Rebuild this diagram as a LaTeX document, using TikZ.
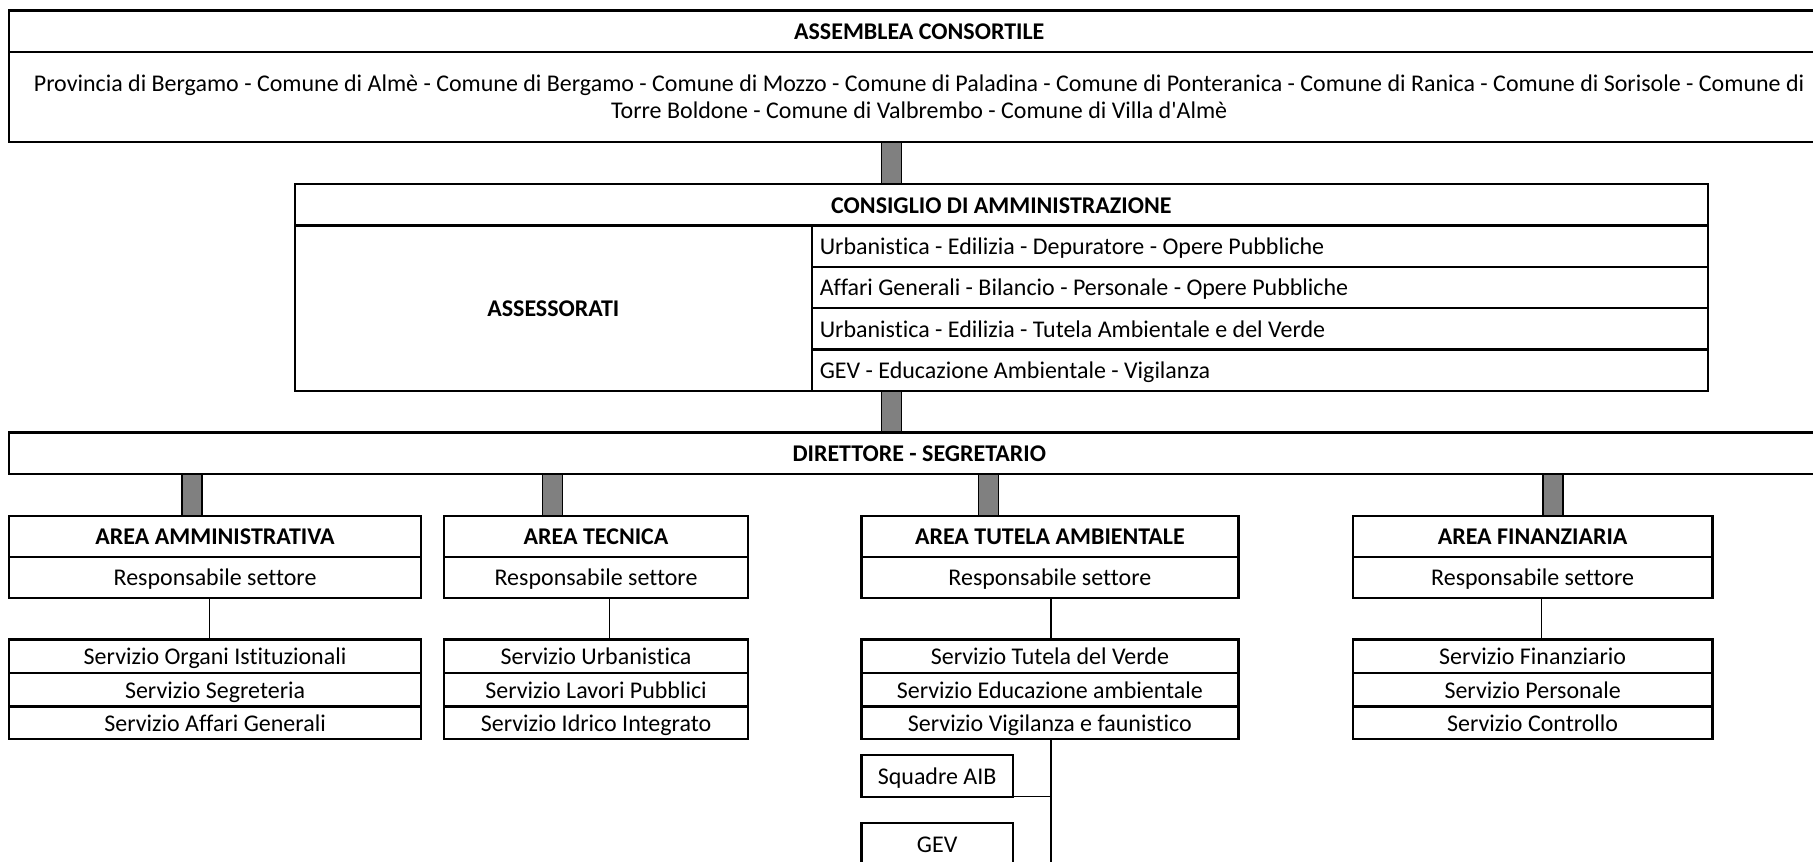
\documentclass[tikz,border=0pt]{standalone}
\usepackage{fontspec}
\setmainfont{Carlito}[Ligatures={TeX,NoCommon}]
\usetikzlibrary{calc}
\tikzstyle{cell}=[draw, line width=1.15pt, inner sep=0pt, outer sep=0pt, anchor=north west, align=center, font=\fontsize{11.8}{13.2}\selectfont]
\tikzstyle{row}=[cell, text height=9.3pt, text depth=1.1pt]
\tikzstyle{head}=[row, font=\fontsize{11.8}{13.2}\selectfont\bfseries]
\tikzstyle{bar} = [draw=black, line width=0.7pt, double=gray, double distance=3.2mm, shorten >=0.55pt, shorten <=0.55pt]
\tikzstyle{link} = [draw, line width=0.75pt]
\begin{document}
\begin{tikzpicture}[x=0.2mm, y=-0.2mm]

  \def\u{0.2mm};
  \useasboundingbox (0,0) rectangle (1568,745);
  \clip (0,0) rectangle (1568,745);

  % assemblea
  \node[head, minimum width=1574*\u, minimum height=36*\u] (asm-h) at (8,9) {ASSEMBLEA CONSORTILE};
  \node[cell, minimum width=1574*\u, minimum height=78*\u] (asm) at (8,45) {Provincia di Bergamo - Comune di Almè - Comune di Bergamo - Comune di Mozzo - Comune di Paladina - Comune di Ponteranica - Comune di Ranica - Comune di Sorisole - Comune di\\Torre Boldone - Comune di Valbrembo - Comune di Villa d\textquotesingle Almè};

  % consiglio
  \node[head, minimum width=1222*\u, minimum height=36*\u] (cda) at (255,159) {CONSIGLIO DI AMMINISTRAZIONE};
  \node[head, minimum width=447*\u, minimum height=143*\u] (ass) at (255,195) {ASSESSORATI};
  \foreach \i/\y/\txt in {1/195/Urbanistica - Edilizia - Depuratore - Opere Pubbliche, 2/230.75/Affari Generali - Bilancio - Personale - Opere Pubbliche, 3/266.5/Urbanistica - Edilizia - Tutela Ambientale e del Verde, 4/302.25/GEV - Educazione Ambientale - Vigilanza}
     \node[row, minimum width=775*\u, minimum height=35.75*\u, text width=761*\u, align=left] (ass\i) at (702,\y) {\spaceskip=0pt\relax\txt};
  \draw[bar] (771,0 |- asm.south) -- (771,0 |- cda.north);

  % direttore
  \node[head, minimum width=1574*\u, minimum height=36*\u] (dir) at (8,374) {DIRETTORE - SEGRETARIO};
  \draw[bar] (771,0 |- ass.south) -- (771,0 |- dir.north);

  % aree
  \foreach \name/\x/\w/\bx/\head in {amm/8/356/166/AREA AMMINISTRATIVA, tec/384/263/478/AREA TECNICA, tut/745/326/855/AREA TUTELA AMBIENTALE, fin/1170/311/1343/AREA FINANZIARIA}
  {
     \node[head, minimum width=\w*\u, minimum height=36*\u] (\name-h) at (\x,446) {\head};
     \node[row, minimum width=\w*\u, minimum height=35*\u] (\name-r) at (\x,482) {Responsabile settore};
     \draw[bar] (\bx,0 |- dir.south) -- (\bx,0 |- \name-h.north);
  }

  % servizi
  \foreach \name/\x/\w/\lx/\one/\two/\three in {amm/8/356/181/Servizio Organi Istituzionali/Servizio Segreteria/Servizio Affari Generali, tec/384/263/527/Servizio Urbanistica/Servizio Lavori Pubblici/Servizio Idrico Integrato, tut/745/326/909/Servizio Tutela del Verde/Servizio Educazione ambientale/Servizio Vigilanza e faunistico, fin/1170/311/1333/Servizio Finanziario/Servizio Personale/Servizio Controllo}
  {
     \node[row, minimum width=\w*\u, minimum height=29*\u] (\name-s1) at (\x,553) {\one};
     \node[row, minimum width=\w*\u, minimum height=29*\u] (\name-s2) at (\x,582) {\two};
     \node[row, minimum width=\w*\u, minimum height=28*\u] (\name-s3) at (\x,611) {\three};
     \draw[link] (\lx,0 |- \name-r.south) -- (\lx,0 |- \name-s1.north);
  }

  % vigilanza
  \node[row, minimum width=131*\u, minimum height=36*\u] (aib) at (745,653) {Squadre AIB};
  \node[row, minimum width=131*\u, minimum height=36*\u] (gev) at (745,712) {GEV};
  \coordinate (tut-end) at (909,760);
  \draw[link] (909,0 |- tut-s3.south) -- (tut-end);
  \draw[link] (aib.south east) -- (909,0 |- aib.south east);

\end{tikzpicture}
\end{document}
